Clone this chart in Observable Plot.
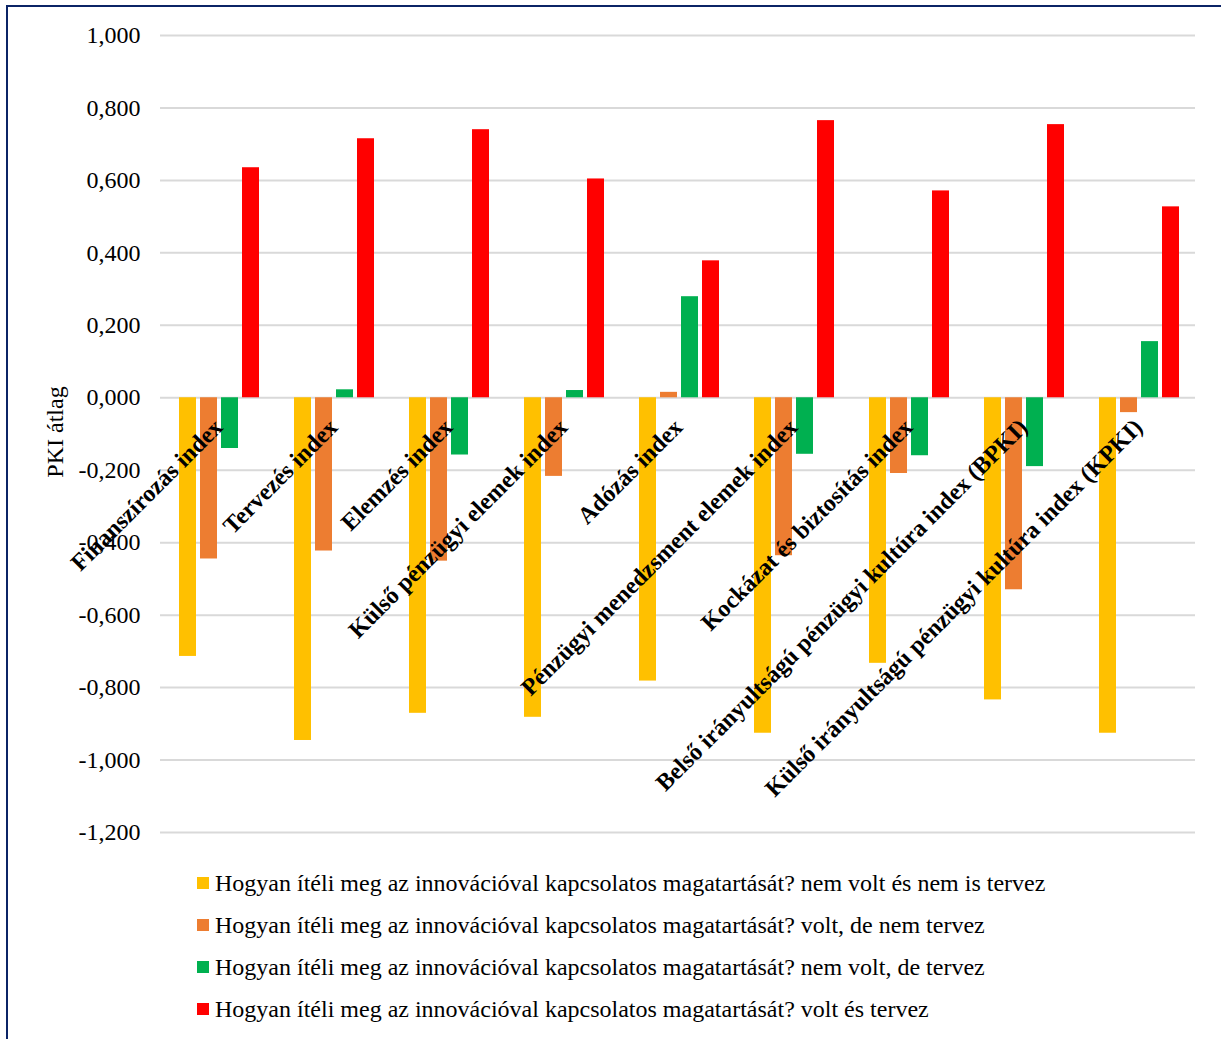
<!DOCTYPE html>
<html>
<head>
<meta charset="utf-8">
<script src="https://cdn.jsdelivr.net/npm/d3@7"></script>
<script src="https://cdn.jsdelivr.net/npm/@observablehq/plot@0.6"></script>
<style>
  html, body { margin: 0; padding: 0; background: #ffffff; }
  #wrap { position: relative; width: 1221px; height: 1039px; overflow: hidden; font-family: "Liberation Serif", "Times New Roman", serif; }
  #border { position: absolute; left: 6px; top: 5px; right: -10px; bottom: -10px; border-left: 2px solid #0b2466; border-top: 2px solid #0b2466; pointer-events: none; }
  #chart { position: absolute; left: 0; top: 0; }
  #ylabel { position: absolute; left: 55px; top: 432px; transform: translate(-50%, -50%) rotate(-90deg); font-size: 24px; white-space: nowrap; color: #000; }
  #legend { position: absolute; left: 197px; top: 862px; font-size: 24px; color: #000; }
  .item { height: 42px; display: flex; align-items: center; white-space: nowrap; }
  .sw { width: 12px; height: 12px; margin-right: 6px; flex: none; }
</style>
</head>
<body>
<div id="wrap">
  <div id="chart"></div>
  <div id="ylabel">PKI átlag</div>
  <div id="legend"></div>
  <div id="border"></div>
</div>
<script>
const categories = [
  "Finanszírozás index",
  "Tervezés index",
  "Elemzés index",
  "Külső pénzügyi elemek index",
  "Adózás index",
  "Pénzügyi menedzsment elemek index",
  "Kockázat és biztosítás index",
  "Belső irányultságú pénzügyi kultúra index (BPKI)",
  "Külső irányultságú pénzügyi kultúra index (KPKI)"
];
const seriesNames = [
  "Hogyan ítéli meg az innovációval kapcsolatos magatartását? nem volt és nem is tervez",
  "Hogyan ítéli meg az innovációval kapcsolatos magatartását? volt, de nem tervez",
  "Hogyan ítéli meg az innovációval kapcsolatos magatartását? nem volt, de tervez",
  "Hogyan ítéli meg az innovációval kapcsolatos magatartását? volt és tervez"
];
const seriesColors = ["#FFC000", "#ED7D31", "#00B050", "#FF0000"];
const nemVoltNemTervez = [-0.714, -0.946, -0.871, -0.882, -0.782, -0.926, -0.733, -0.834, -0.926];
const voltNemTervez    = [-0.445, -0.423, -0.451, -0.217,  0.015, -0.436, -0.209, -0.530, -0.041];
const nemVoltTervez    = [-0.140,  0.022, -0.158,  0.020,  0.279, -0.156, -0.160, -0.190,  0.155];
const voltTervez       = [ 0.635,  0.715,  0.740,  0.604,  0.378,  0.765,  0.571,  0.754,  0.527];
const yTicks = [-1.2, -1.0, -0.8, -0.6, -0.4, -0.2, 0, 0.2, 0.4, 0.6, 0.8, 1.0];

const seriesValues = [nemVoltNemTervez, voltNemTervez, nemVoltTervez, voltTervez];
const data = [];
categories.forEach((c, i) => {
  seriesNames.forEach((s, j) => {
    data.push({cat: c, series: s, value: seriesValues[j][i]});
  });
});

const fmt = d => d3.format(".3f")(d).replace(".", ",").replace("\u2212", "-");

const chart = Plot.plot({
  width: 1221,
  height: 860,
  marginTop: 35,
  marginBottom: 28,
  marginLeft: 160,
  marginRight: 26,
  style: {fontFamily: "'Liberation Serif', 'Times New Roman', serif", fontSize: "24px", color: "#000", background: "transparent"},
  fx: {domain: categories, padding: 0, axis: null, label: null},
  x: {domain: seriesNames, paddingInner: 0.19, paddingOuter: 0.83, align: 0.55, axis: null},
  y: {domain: [-1.2, 1.0], ticks: yTicks, tickFormat: fmt, tickSize: 0, tickPadding: 20, label: null},
  color: {domain: seriesNames, range: seriesColors},
  marks: [
    Plot.gridY(yTicks, {stroke: "#d9d9d9", strokeOpacity: 1, strokeWidth: 2}),
    Plot.barY(data, {fx: "cat", x: "series", y: "value", fill: "series"}),
    Plot.text(categories, {
      fx: d => d,
      y: () => 0,
      text: d => d,
      rotate: -45,
      textAnchor: "end",
      lineAnchor: "bottom",
      dx: 6,
      dy: 31,
      fontWeight: "bold",
      fontSize: 24,
      fill: "#000"
    })
  ]
});
document.getElementById("chart").appendChild(chart);

const legend = document.getElementById("legend");
seriesNames.forEach((s, j) => {
  const row = document.createElement("div");
  row.className = "item";
  const sw = document.createElement("span");
  sw.className = "sw";
  sw.style.background = seriesColors[j];
  const t = document.createElement("span");
  t.textContent = s;
  row.appendChild(sw);
  row.appendChild(t);
  legend.appendChild(row);
});
</script>
</body>
</html>
